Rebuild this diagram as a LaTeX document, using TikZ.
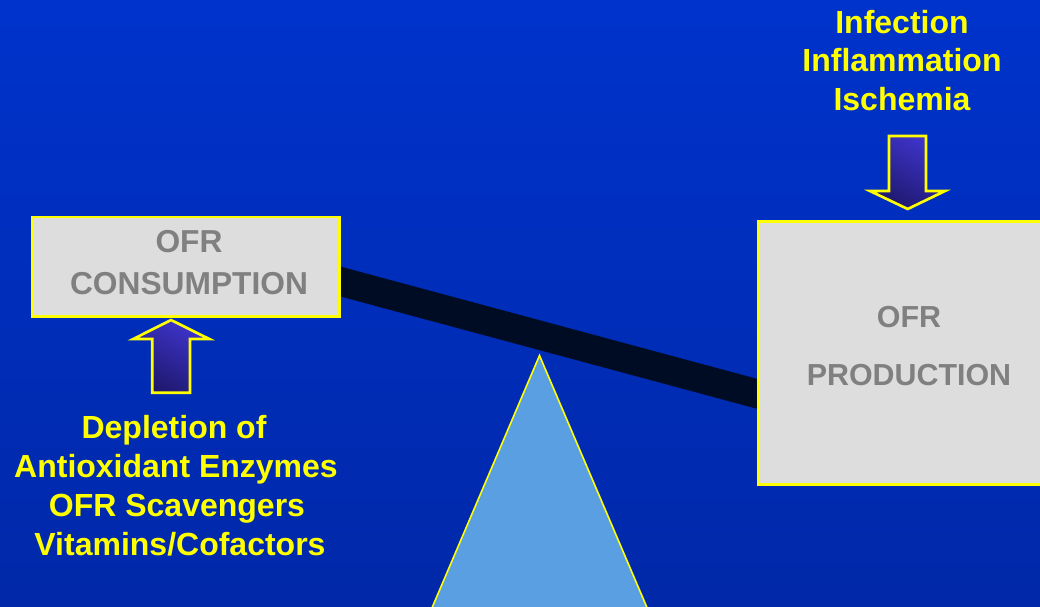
\documentclass[tikz,border=0pt]{standalone}
\usepackage{fontspec}
\setmainfont{Liberation Sans}
\begin{document}
\definecolor{bgtop}{RGB}{0,51,204}
\definecolor{bgbottom}{RGB}{0,40,168}
\definecolor{beamcol}{RGB}{0,11,36}
\definecolor{boxfill}{RGB}{221,221,221}
\definecolor{boxtext}{RGB}{128,128,128}
\definecolor{labelyellow}{RGB}{255,255,0}
\definecolor{pivotblue}{RGB}{91,159,227}
\definecolor{arrowlight}{RGB}{62,52,204}
\definecolor{arrowdark}{RGB}{30,24,108}
\begin{tikzpicture}[x=0.75pt,y=-0.75pt,
  panel/.style={fill=boxfill,draw=labelyellow,line width=2pt,inner sep=0pt,
    anchor=north west},
  boxword/.style={anchor=base,inner sep=0pt,text=boxtext},
  causeword/.style={anchor=base,inner sep=0pt,text=labelyellow,
    font=\fontsize{24pt}{28pt}\selectfont\bfseries},
  fatarrow/.style={draw=labelyellow,line width=2pt,line join=miter,
    top color=arrowlight,bottom color=arrowdark,shading angle=-30},
  beam/.style={draw=beamcol,line width=21.7pt}]
\useasboundingbox (0,0) rectangle (1040,607);
\clip (0,0) rectangle (1040,607);
% backdrop
\fill[top color=bgtop,bottom color=bgbottom] (0,0) rectangle (1040,607);

% fulcrum
\filldraw[fill=pivotblue,draw=labelyellow,line width=1.2pt,line join=miter]
  (539.5,355.5) -- (652.3,620) -- (426.8,620) -- cycle;

% lever beam resting between the two pans
\coordinate (beamL) at (320,276);
\coordinate (beamR) at (780,400);
\draw[beam] (beamL) -- (beamR);

% pans (sizes in pt: 1 unit = 0.75pt)
\node[panel,minimum width=230.5pt,minimum height=74.6pt] (consumption) at (31,215.5) {};
\node[panel,minimum width=225pt,minimum height=197.5pt] (production) at (757.3,220) {};

\node[boxword,font=\fontsize{23.8pt}{28pt}\selectfont\bfseries] (consOFR) at (189,252) {OFR};
\node[boxword,font=\fontsize{23.8pt}{28pt}\selectfont\bfseries] (consWord) at (189,294) {CONSUMPTION};
\node[boxword,font=\fontsize{22.8pt}{28pt}\selectfont\bfseries] (prodOFR) at (909,327) {OFR};
\node[boxword,font=\fontsize{22.8pt}{28pt}\selectfont\bfseries] (prodWord) at (909,385) {PRODUCTION};

% arrow pushing into the consumption pan
\path[fatarrow] (171,320) -- (209.3,339) -- (190,339) -- (190,392.7)
  -- (152.3,392.7) -- (152.3,339) -- (133.3,339) -- cycle;

% arrow pushing into the production pan
\path[fatarrow] (889,136) -- (926,136) -- (926,191) -- (945,191)
  -- (907.7,209) -- (870,191) -- (889,191) -- cycle;

% causes above the production pan
\node[causeword] (infection) at (902,33) {Infection};
\node[causeword] (inflammation) at (902,71.5) {Inflammation};
\node[causeword] (ischemia) at (902,110) {Ischemia};

% causes below the consumption pan
\node[causeword] (depletion) at (174,438.5) {Depletion of};
\node[causeword] (enzymes) at (176,477.5) {Antioxidant Enzymes};
\node[causeword] (scavengers) at (177,516.5) {OFR Scavengers};
\node[causeword] (vitamins) at (180,555) {Vitamins/Cofactors};
\end{tikzpicture}
\end{document}
